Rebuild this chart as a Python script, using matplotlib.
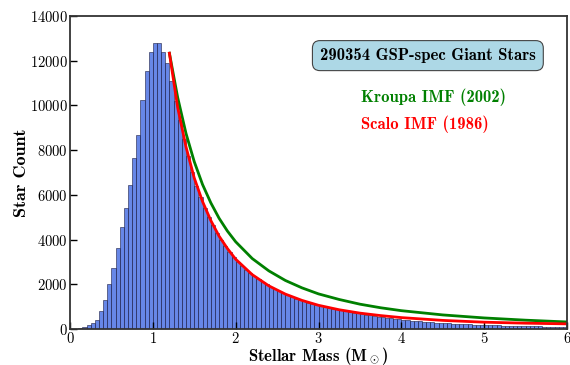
import numpy as np
import matplotlib
matplotlib.use('Agg')
import matplotlib.pyplot as plt

plt.rcParams['font.family'] = 'cmr10'
plt.rcParams['mathtext.fontset'] = 'cm'
plt.rcParams['axes.formatter.use_mathtext'] = True

# histogram of stellar masses, bin width 0.05 Msun, 0 - 6
bin_width = 0.05
counts = [
    0, 10, 30, 80, 170, 270, 420, 790, 1290, 2030,
    2730, 3600, 4570, 5420, 6420, 7630, 8670, 10240, 11550, 12380,
    12780, 12780, 12380, 11880, 11100, 10200, 9350, 8500, 7720, 7000,
    6400, 5900, 5420, 5000, 4640, 4300, 3960, 3700, 3450, 3200,
    3000, 2830, 2660, 2500, 2370, 2240, 2110, 2000, 1890, 1790,
    1690, 1600, 1510, 1430, 1360, 1290, 1230, 1170, 1110, 1060,
    1030, 990, 950, 910, 875, 840, 800, 765, 730, 700,
    665, 635, 605, 575, 550, 525, 500, 475, 455, 435,
    415, 395, 375, 360, 345, 330, 315, 300, 290, 275,
    265, 255, 245, 235, 225, 215, 208, 200, 192, 185,
    178, 172, 166, 160, 154, 149, 144, 139, 134, 130,
    126, 122, 118, 114, 110, 107, 104, 101, 98, 95,
]
n_stars = 290354

# IMF curves
imf_mass = [1.2, 1.3, 1.4, 1.5, 1.6, 1.7, 1.8, 1.9, 2.0, 2.2, 2.4, 2.6, 2.8, 3.0,
            3.25, 3.5, 3.75, 4.0, 4.5, 5.0, 5.5, 6.0]
kroupa = [12330, 10350, 8750, 7480, 6460, 5640, 4950, 4380, 3900, 3150, 2600, 2170,
          1840, 1570, 1320, 1110, 950, 820, 630, 495, 395, 315]
scalo = [12330, 9900, 8150, 6750, 5700, 4850, 4150, 3600, 3120, 2430, 1930, 1560,
         1280, 1060, 860, 710, 600, 510, 385, 305, 260, 230]

edges = np.arange(len(counts)) * bin_width

fig = plt.figure(figsize=(5.7, 3.65), dpi=100)
ax = fig.add_axes([0.1228, 0.0986, 0.872, 0.858])

ax.bar(edges, counts, width=bin_width, align='edge', color='royalblue', alpha=0.8,
       edgecolor='#1a1a40', linewidth=0.5)
ax.plot(imf_mass, kroupa, color='green', lw=2)
ax.plot(imf_mass, scalo, color='red', lw=2)

ax.set_xlim(0, 6)
ax.set_ylim(0, 14000)
ax.set_xticks(range(7))
ax.set_yticks(range(0, 14001, 2000))
ax.tick_params(direction='in', length=5, width=1, labelsize=10.5, pad=1.5)
for s in ax.spines.values():
    s.set_linewidth(1.3)
    s.set_color('#333333')

ax.set_xlabel(r'Stellar Mass (M$_\odot$)', family='cmb10', fontsize=12, va='center')
ax.xaxis.set_label_coords(0.5, -0.087)
ax.set_ylabel('Star Count', family='cmb10', fontsize=13, labelpad=1)

ax.text(0.72, 0.873, f'{n_stars} GSP-spec Giant Stars', transform=ax.transAxes,
        family='cmb10', fontsize=12, ha='center', va='center',
        bbox=dict(boxstyle='round,pad=0.45', facecolor='lightblue', edgecolor='#444444', lw=0.8))
ax.text(0.585, 0.74, 'Kroupa IMF (2002)', transform=ax.transAxes, family='cmb10',
        fontsize=12, color='green', ha='left', va='center')
ax.text(0.585, 0.655, 'Scalo IMF (1986)', transform=ax.transAxes, family='cmb10',
        fontsize=12, color='red', ha='left', va='center')

fig.savefig('out.png', dpi=100)
